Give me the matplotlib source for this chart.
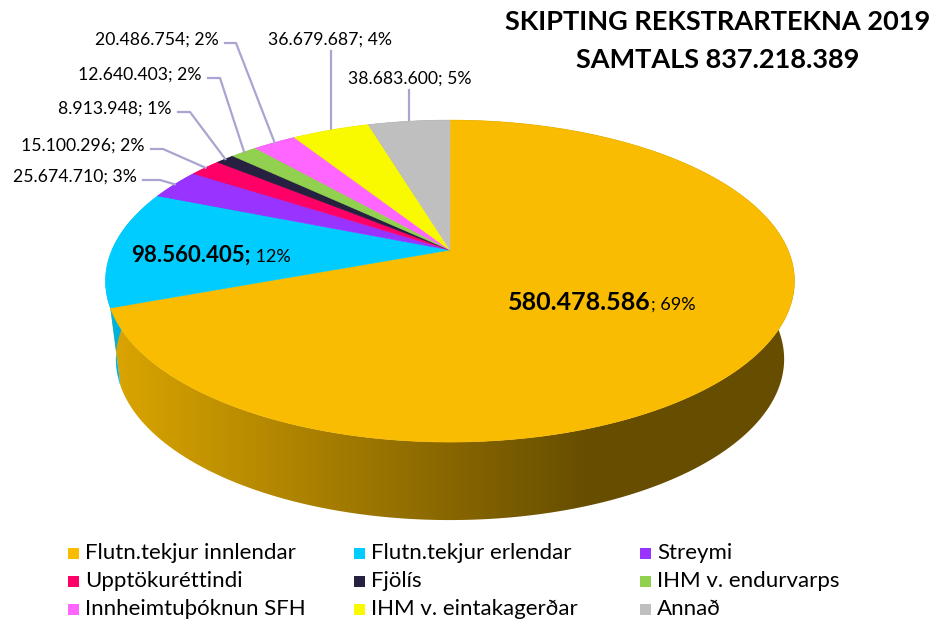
import numpy as np
import matplotlib
matplotlib.use("Agg")
import matplotlib.pyplot as plt
from matplotlib.patches import Polygon, Rectangle
from matplotlib.colors import to_rgb

plt.rcParams['font.family'] = ['Lato', 'DejaVu Sans']

# gögn
flokkar = ["Flutn.tekjur innlendar", "Flutn.tekjur erlendar", "Streymi",
           "Upptökuréttindi", "Fjölís", "IHM v. endurvarps",
           "Innheimtuþóknun SFH", "IHM v. eintakagerðar", "Annað"]
upphaedir = [580478586, 98560405, 25674710, 15100296, 8913948,
             12640403, 20486754, 36679687, 38683600]
litir = ["#F9BC00", "#00CCFF", "#9933FF", "#FF0066", "#262140",
         "#92D050", "#FF66FF", "#F9F900", "#BFBFBF"]
titill = ["SKIPTING REKSTRARTEKNA 2019", "SAMTALS 837.218.389"]

samtals = sum(upphaedir)

def punktar(v):
    return f"{v:,}".replace(",", ".")

# 3D kaka - einföld fjarvídd
cx, cy = 450, 250
rx, ry = 338, 155
k = 0.193
dz = 78
skreppa = 0.97  # botninn aðeins mjórri

def proj(th):
    X = np.sin(th)
    Y = np.cos(th)
    w = 1 + k * Y
    return cx + rx * X / w, cy - ry * Y / w

fig = plt.figure(figsize=(9.37, 6.28), dpi=100)
ax = fig.add_axes([0, 0, 1, 1])
ax.set_xlim(0, 937)
ax.set_ylim(628, 0)
ax.axis("off")

hlutar = np.array(upphaedir) / samtals
endar = np.cumsum(hlutar) * 2 * np.pi
byrjun = endar - hlutar * 2 * np.pi

# hliðar fyrst
gx = np.linspace(0, 937, 400)
fakt = np.clip(0.88 - (gx - 110) * 0.00098, 0.41, 0.88)
for i in range(len(upphaedir)):
    t = np.linspace(byrjun[i], endar[i], 200)
    x, y = proj(t)
    xb = cx + (x - cx) * skreppa
    poly = np.vstack([np.column_stack([x, y]),
                      np.column_stack([xb[::-1], y[::-1] + dz])])
    p = Polygon(poly, closed=True, facecolor="none", edgecolor="none")
    ax.add_patch(p)
    rgb = np.array(to_rgb(litir[i]))
    img = fakt[None, :, None] * rgb[None, None, :]
    im = ax.imshow(img, extent=(0, 937, 628, 0), aspect="auto", zorder=1)
    im.set_clip_path(p)

# toppflötur
for i in range(len(upphaedir)):
    t = np.linspace(byrjun[i], endar[i], 200)
    x, y = proj(t)
    poly = np.vstack([[cx, cy], np.column_stack([x, y])])
    ax.add_patch(Polygon(poly, closed=True, facecolor=litir[i],
                         edgecolor=litir[i], lw=0.4, zorder=2))

r = fig.canvas.get_renderer()

def tvilit(x, y, feitt, venjulegt, fs1, fs2):
    t1 = ax.text(x, y, feitt, fontsize=fs1, fontweight="bold", va="baseline", zorder=5)
    bb = t1.get_window_extent(r).transformed(ax.transData.inverted())
    ax.text(bb.x1, y, venjulegt, fontsize=fs2, va="baseline", zorder=5)

pr = [round(h * 100) for h in hlutar]
tvilit(508, 310, punktar(upphaedir[0]), f"; {pr[0]}%", 18, 13)
tvilit(131, 262, punktar(upphaedir[1]) + ";", f" {pr[1]}%", 16, 13)

# merki utan við
lina = "#A9A5D1"
vinstri = {2: (137, 177, 160), 3: (145, 146, 163), 4: (172, 109, 190),
           5: (202, 75, 220), 6: (219, 40, 236)}
for i, (xe, ym, xb) in vinstri.items():
    ax.text(xe, ym, f"{punktar(upphaedir[i])}; {pr[i]}%", fontsize=12.7,
            ha="right", va="center", zorder=5)
    mx, my = proj((byrjun[i] + endar[i]) / 2)
    ax.plot([xe + 6, xb, mx], [ym + 3, ym + 3, my], color=lina, lw=1.6, zorder=3)

ofan = {7: (330, 40), 8: (410, 79)}
for i, (xm, ym) in ofan.items():
    mx, my = proj((byrjun[i] + endar[i]) / 2)
    ax.text(xm, ym, f"{punktar(upphaedir[i])}; {pr[i]}%", fontsize=12.7,
            ha="center", va="center", zorder=5)
    ax.plot([mx, mx], [ym + 11, my + 2], color=lina, lw=1.6, zorder=1.5)

# titill
ax.text(718, 22, titill[0], fontsize=19.5, fontweight="bold", ha="center", va="center")
ax.text(718, 60, titill[1], fontsize=19.5, fontweight="bold", ha="center", va="center")

# skýringar
dalkar = [68, 354, 640]
radir = [553, 581, 609]
for i, nafn in enumerate(flokkar):
    xx = dalkar[i % 3]
    yy = radir[i // 3]
    ax.add_patch(Rectangle((xx, yy - 5), 11, 11, facecolor=litir[i], edgecolor="none"))
    ax.text(xx + 17, yy, nafn, fontsize=16, va="center")

fig.savefig("out.png", dpi=100)
